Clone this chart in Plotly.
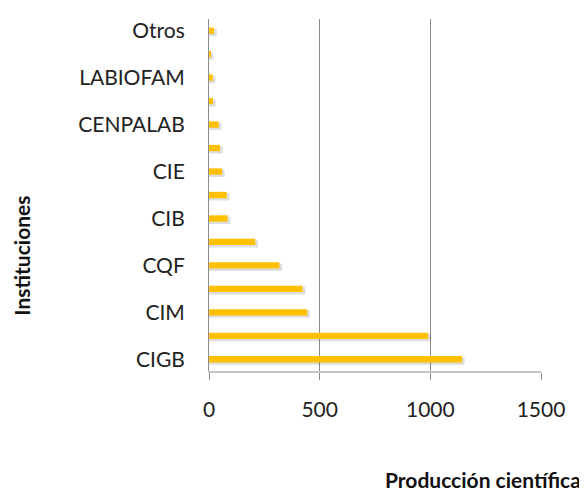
import plotly.graph_objects as go

instituciones = ["CIGB", "CNIC", "CIM", "IFV", "CQF", "CENSA", "CIB", "CNB",
                 "CIE", "CNEURO", "CENPALAB", "CIDEM", "LABIOFAM", "CIREN", "Otros"]
produccion = [1143, 990, 444, 423, 318, 209, 84, 80, 59, 50, 44, 18, 17, 8, 23]
etiquetas_visibles = ["CIGB", "CIM", "CQF", "CIB", "CIE", "CENPALAB", "LABIOFAM", "Otros"]
x_ticks = [0, 500, 1000, 1500]

font_family = "Lato, 'Open Sans', sans-serif"
bar_w = 0.27

fig = go.Figure()
# soft drop shadow under each bar
fig.add_trace(go.Bar(
    y=instituciones, x=[v + 12 for v in produccion], orientation="h",
    marker=dict(color="rgba(0,0,0,0.13)", line=dict(width=0)),
    width=bar_w + 0.04, offset=-bar_w / 2 - 0.1, hoverinfo="skip",
))
fig.add_trace(go.Bar(
    y=instituciones, x=produccion, orientation="h",
    marker=dict(color="#FFC000", line=dict(width=0)),
    width=bar_w, offset=-bar_w / 2,
))

fig.update_layout(
    width=579, height=483,
    margin=dict(l=201, r=46, t=9, b=120),
    paper_bgcolor="white", plot_bgcolor="white",
    showlegend=False, barmode="overlay",
    font=dict(family=font_family, color="#222"),
    xaxis=dict(
        range=[0, 1500], tickvals=x_ticks,
        showgrid=True, gridcolor="#8c8c8c", gridwidth=1,
        zeroline=False, showline=True, linecolor="#c4c4c4", linewidth=2,
        ticks="outside", ticklen=7, tickcolor="#8c8c8c",
        ticklabelstandoff=12,
        tickfont=dict(size=21, color="#222"),
    ),
    yaxis=dict(
        type="category", categoryorder="array", categoryarray=instituciones,
        range=[-0.5, 14.5],
        tickmode="array", tickvals=etiquetas_visibles, ticktext=etiquetas_visibles,
        showgrid=False, zeroline=False,
        showline=True, linecolor="#8c8c8c", linewidth=1,
        ticks="", ticklabelstandoff=19,
        tickfont=dict(size=21, color="#222"),
    ),
    annotations=[
        dict(text="<b>Producción científica</b>", xref="paper", yref="paper",
             x=1.1265, y=-0.308, xanchor="right", yanchor="middle", showarrow=False,
             font=dict(size=21, color="#111")),
        dict(text="<b>Instituciones</b>", xref="paper", yref="paper",
             x=-0.566, y=0.328, xanchor="center", yanchor="middle", textangle=-90,
             showarrow=False, font=dict(size=21, color="#111")),
    ],
)

fig.write_html("out.html")
